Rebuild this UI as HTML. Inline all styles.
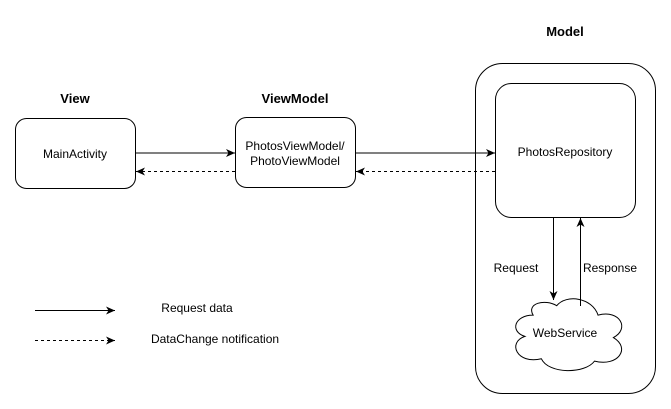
<!DOCTYPE html>
<html><head><meta charset="utf-8"><style>
html,body{margin:0;padding:0;background:#fff;}
svg{display:block;font-family:"Liberation Sans",Arial,sans-serif;}
</style></head><body>
<svg width="671" height="409" viewBox="0 0 671 409" xmlns="http://www.w3.org/2000/svg">
<defs>
<marker id="a" markerWidth="10" markerHeight="8" refX="9" refY="4" orient="auto" markerUnits="userSpaceOnUse">
<path d="M0,0 L9,4 L0,8 L2.5,4 Z" fill="#000"/></marker>
</defs>
<g font-size="13" font-weight="bold" text-anchor="middle" fill="#000">
<text x="75" y="103">View</text>
<text x="295" y="103">ViewModel</text>
<text x="565" y="36">Model</text>
</g>
<g fill="#fff" stroke="#000" stroke-width="1">
<rect x="475.5" y="63.5" width="180" height="330" rx="27"/>
<rect x="15.5" y="118.5" width="120" height="70" rx="11"/>
<rect x="235.5" y="117.5" width="120" height="70" rx="11"/>
<rect x="495.5" y="83.5" width="140" height="134" rx="16"/>
<path transform="translate(565,334) scale(1.18) translate(-565,-334)" d="M538,318 C522,318 518,332 531,336 C516,341 524,360 545,355 C551,368 582,368 590,357 C610,362 621,346 606,337 C620,330 612,313 593,318 C588,303 566,300 558,310 C548,304 532,308 538,318 Z" stroke-width="0.85"/>
</g>
<g font-size="12" text-anchor="middle" fill="#000">
<text x="75" y="158">MainActivity</text>
<text x="295" y="150">PhotosViewModel/</text>
<text x="295" y="165">PhotoViewModel</text>
<text x="565" y="156">PhotosRepository</text>
<text x="565" y="337">WebService</text>
<text x="516" y="272">Request</text>
<text x="610" y="272">Response</text>
<text x="197" y="312">Request data</text>
<text x="215" y="343">DataChange notification</text>
</g>
<g stroke="#000" stroke-width="1" fill="none">
<line x1="135" y1="153" x2="235" y2="153" marker-end="url(#a)"/>
<line x1="235" y1="171.5" x2="136" y2="171.5" stroke-dasharray="3,3" marker-end="url(#a)"/>
<line x1="355" y1="153" x2="495" y2="153" marker-end="url(#a)"/>
<line x1="495" y1="171.5" x2="356" y2="171.5" stroke-dasharray="3,3" marker-end="url(#a)"/>
<line x1="553.5" y1="217" x2="553.5" y2="300" marker-end="url(#a)"/>
<line x1="580.5" y1="306" x2="580.5" y2="218" marker-end="url(#a)"/>
<line x1="35" y1="310.5" x2="115" y2="310.5" marker-end="url(#a)"/>
<line x1="35" y1="340.5" x2="115" y2="340.5" stroke-dasharray="3,3" marker-end="url(#a)"/>
</g>
</svg>
</body></html>
